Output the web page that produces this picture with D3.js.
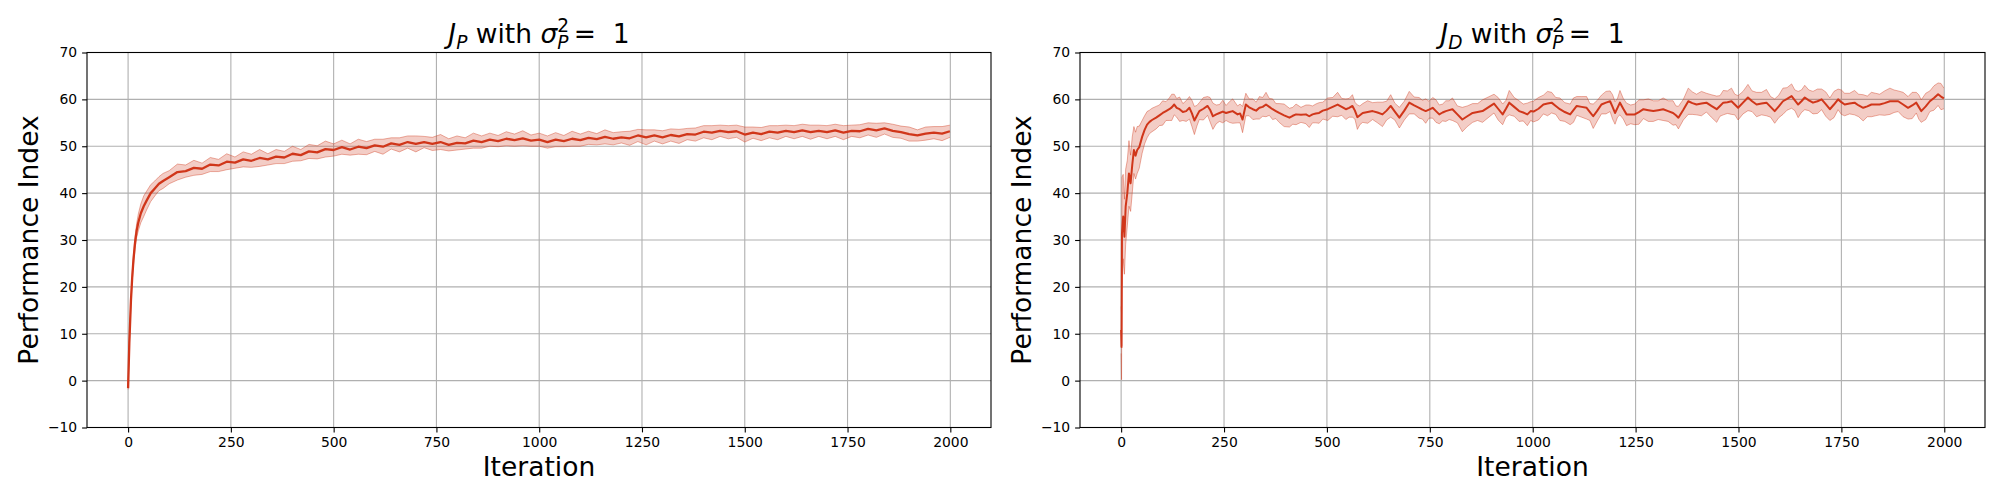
<!DOCTYPE html>
<html>
<head>
<meta charset="utf-8">
<script src="https://cdn.jsdelivr.net/npm/d3@7"></script>
<style>
  html, body { margin: 0; padding: 0; background: #fff; }
  svg { display: block; font-family: "DejaVu Sans", sans-serif; }
</style>
</head>
<body>
<svg id="chart" width="2000" height="500"></svg>
<script>
// ---------------- DATA ----------------
const xTicks = [0, 250, 500, 750, 1000, 1250, 1500, 1750, 2000];
const yTicks = [-10, 0, 10, 20, 30, 40, 50, 60, 70];

// Left panel: J_P
const leftIter = [
  0, 3, 7, 10, 13, 17, 21, 25, 31, 38,
  45, 55, 65, 75, 85, 100, 120, 140, 160, 180,
  200, 220, 240, 260, 280, 300, 320, 340, 360, 380,
  400, 420, 440, 460, 480, 500, 520, 540, 560, 580,
  600, 620, 640, 660, 680, 700, 720, 740, 760, 780,
  800, 820, 840, 860, 880, 900, 920, 940, 960, 980,
  1000, 1020, 1040, 1060, 1080, 1100, 1120, 1140, 1160, 1180,
  1200, 1220, 1240, 1260, 1280, 1300, 1320, 1340, 1360, 1380,
  1400, 1420, 1440, 1460, 1480, 1500, 1520, 1540, 1560, 1580,
  1600, 1620, 1640, 1660, 1680, 1700, 1720, 1740, 1760, 1780,
  1800, 1820, 1840, 1860, 1880, 1900, 1920, 1940, 1960, 1980,
  1999
];
const leftMean = [
  -1.6, 8.0, 17.2, 22.0, 25.7, 29.5, 32.1, 33.8, 35.7, 37.2,
  38.4, 40.0, 41.0, 42.0, 42.6, 43.4, 44.5, 44.7, 45.4, 45.2,
  46.1, 45.9, 46.7, 46.5, 47.2, 46.9, 47.5, 47.2, 47.8, 47.6,
  48.4, 48.1, 48.9, 48.7, 49.4, 49.2, 49.8, 49.3, 49.9, 49.6,
  50.2, 49.9, 50.6, 50.3, 50.9, 50.5, 50.9, 50.5, 50.9, 50.3,
  50.7, 50.6, 51.2, 50.9, 51.4, 51.1, 51.6, 51.3, 51.7, 51.2,
  51.4, 50.9, 51.4, 51.1, 51.6, 51.3, 51.8, 51.5, 52.0, 51.6,
  51.9, 51.7, 52.3, 51.9, 52.3, 51.9, 52.4, 52.1, 52.6, 52.5,
  53.1, 52.9, 53.3, 53.0, 53.2, 52.5, 52.9, 52.6, 53.1, 52.9,
  53.3, 53.0, 53.4, 53.0, 53.3, 53.0, 53.4, 52.9, 53.3, 53.2,
  53.7, 53.4, 53.8, 53.3, 53.0, 52.6, 52.3, 52.7, 52.9, 52.7,
  53.2
];
const leftSpread = [
  0.3, 0.5, 0.7, 0.9, 1.1, 1.3, 1.5, 1.8, 2.0, 2.2,
  2.0, 1.8, 1.6, 1.5, 1.6, 1.4, 1.7, 1.3, 1.6, 1.2,
  1.5, 1.3, 1.7, 1.2, 1.6, 1.4, 1.8, 1.2, 1.5, 1.3,
  1.6, 1.2, 1.5, 1.4, 1.7, 1.3, 1.5, 1.2, 1.6, 1.4,
  1.3, 1.6, 1.2, 1.5, 1.3, 1.7, 1.2, 1.4, 1.6, 1.3,
  1.5, 1.2, 1.6, 1.3, 1.4, 1.2, 1.5, 1.3, 1.6, 1.2,
  1.4, 1.3, 1.5, 1.2, 1.6, 1.3, 1.4, 1.2, 1.5, 1.3,
  1.2, 1.5, 1.3, 1.6, 1.2, 1.4, 1.3, 1.5, 1.2, 1.4,
  1.3, 1.5, 1.2, 1.4, 1.3, 1.6, 1.2, 1.4, 1.3, 1.5,
  1.2, 1.4, 1.3, 1.5, 1.2, 1.4, 1.3, 1.5, 1.2, 1.4,
  1.3, 1.5, 1.2, 1.4, 1.3, 1.5, 1.2, 1.4, 1.3, 1.5,
  1.3
];

// Right panel: J_D
const rightIter = [
  0, 1, 2, 5, 8, 11, 15, 19, 23, 27,
  31, 35, 39, 44, 51, 57, 63, 69, 75, 85,
  93, 101, 109, 117, 123, 129, 135, 142, 150, 158,
  166, 172, 178, 184, 190, 200, 210, 216, 223, 231,
  239, 247, 255, 263, 271, 283, 289, 295, 303, 311,
  320, 328, 336, 344, 352, 360, 368, 376, 384, 396,
  409, 417, 425, 437, 449, 457, 465, 473, 481, 490,
  502, 514, 526, 536, 546, 554, 562, 568, 574, 580,
  587, 599, 611, 623, 635, 645, 655, 665, 676, 688,
  700, 712, 724, 732, 740, 748, 757, 765, 773, 781,
  789, 797, 805, 817, 829, 841, 854, 866, 878, 892,
  906, 916, 927, 935, 943, 955, 967, 977, 987, 995,
  1002, 1014, 1026, 1036, 1046, 1056, 1066, 1078, 1091, 1099,
  1107, 1119, 1131, 1139, 1147, 1157, 1167, 1178, 1188, 1194,
  1200, 1206, 1212, 1220, 1228, 1238, 1248, 1258, 1269, 1281,
  1293, 1305, 1317, 1329, 1341, 1348, 1354, 1366, 1378, 1388,
  1398, 1410, 1422, 1434, 1447, 1455, 1463, 1473, 1483, 1491,
  1499, 1511, 1523, 1533, 1544, 1556, 1568, 1578, 1588, 1598,
  1608, 1618, 1629, 1637, 1645, 1653, 1661, 1671, 1681, 1692,
  1702, 1712, 1722, 1732, 1742, 1750, 1758, 1770, 1782, 1792,
  1803, 1813, 1823, 1833, 1843, 1855, 1868, 1878, 1888, 1900,
  1912, 1922, 1932, 1938, 1944, 1955, 1965, 1975, 1985, 1992,
  1999
];
const rightMean = [
  10.8, 7.2, 31.4, 35.0, 30.7, 37.1, 40.0, 44.2, 42.1, 46.0,
  49.2, 48.0, 49.2, 49.8, 52.0, 53.5, 54.6, 55.2, 55.6, 56.1,
  56.6, 57.1, 57.5, 57.9, 58.3, 58.9, 58.2, 57.9, 57.3, 57.5,
  58.2, 57.0, 55.5, 56.5, 57.5, 58.0, 58.6, 57.8, 56.4, 56.8,
  57.1, 57.4, 57.1, 57.3, 57.5, 56.8, 57.0, 55.7, 58.9, 58.3,
  57.9, 57.6, 58.2, 58.4, 58.9, 58.4, 57.9, 57.5, 57.1, 56.6,
  56.1, 56.5, 56.8, 56.7, 56.8, 56.4, 56.8, 57.0, 57.1, 57.6,
  57.9, 58.4, 58.9, 58.4, 57.9, 58.2, 58.6, 57.6, 56.2, 56.6,
  57.1, 57.3, 57.5, 57.2, 56.8, 57.6, 58.6, 57.4, 56.1, 57.6,
  59.3, 58.7, 58.2, 57.8, 57.5, 57.8, 58.2, 57.5, 56.8, 57.2,
  57.5, 57.7, 57.9, 56.8, 55.7, 56.4, 57.1, 57.3, 57.5, 58.3,
  59.1, 58.0, 56.8, 58.0, 59.3, 58.4, 57.5, 57.2, 56.8, 57.5,
  57.4, 58.0, 58.9, 59.1, 59.3, 58.6, 57.9, 57.3, 56.8, 57.7,
  58.6, 58.4, 58.2, 57.3, 56.4, 57.6, 58.9, 59.3, 59.6, 58.4,
  57.1, 58.2, 59.3, 58.0, 56.8, 56.8, 56.8, 57.3, 57.9, 57.7,
  57.5, 57.7, 57.9, 57.5, 57.1, 56.6, 56.1, 57.8, 59.6, 59.2,
  58.9, 59.1, 59.3, 58.6, 57.9, 58.6, 59.3, 59.4, 59.6, 58.9,
  58.2, 59.3, 60.4, 59.6, 58.9, 59.1, 59.3, 58.4, 57.5, 58.5,
  59.6, 60.1, 60.7, 59.8, 58.9, 59.6, 60.4, 59.8, 59.3, 59.6,
  60.0, 59.0, 57.9, 58.9, 60.0, 59.4, 58.9, 59.1, 59.3, 58.7,
  58.2, 58.5, 58.9, 58.9, 58.9, 59.2, 59.6, 59.6, 59.6, 58.9,
  58.2, 58.7, 59.3, 58.4, 57.5, 58.5, 59.6, 60.3, 61.1, 60.6,
  60.2
];
const rightSpread = [
  5.0, 7.0, 12.0, 9.0, 8.0, 8.0, 7.0, 7.0, 6.0, 6.0,
  5.0, 5.0, 5.0, 4.5, 3.5, 3.0, 2.8, 2.5, 2.5, 2.4,
  2.2, 2.6, 2.0, 2.4, 2.8, 2.2, 2.0, 2.6, 1.8, 2.2,
  2.4, 2.8, 3.0, 2.2, 1.8, 2.4, 2.0, 2.6, 2.8, 2.0,
  1.8, 2.4, 1.6, 2.2, 2.6, 1.8, 2.0, 2.8, 2.4, 1.8,
  2.2, 1.8, 2.4, 2.0, 2.6, 1.8, 2.2, 1.6, 2.0, 2.4,
  2.0, 1.8, 2.2, 1.6, 2.0, 2.4, 1.8, 2.0, 2.2, 1.8,
  2.4, 2.0, 2.6, 1.8, 2.2, 2.0, 2.4, 1.8, 2.6, 2.0,
  2.0, 2.4, 1.8, 2.2, 2.6, 2.0, 2.4, 1.8, 2.2, 2.0,
  2.4, 1.8, 2.2, 2.0, 2.6, 1.8, 2.2, 2.4, 2.0, 1.8,
  2.2, 2.0, 2.4, 1.8, 2.6, 2.2, 2.0, 1.8, 2.4, 2.2,
  2.0, 2.4, 2.2, 1.8, 2.6, 2.0, 2.2, 1.8, 2.4, 2.0,
  2.2, 2.4, 2.0, 2.6, 2.2, 1.8, 2.4, 2.0, 2.2, 2.6,
  2.0, 2.2, 2.4, 1.8, 2.6, 2.2, 2.0, 2.4, 2.2, 2.6,
  2.4, 2.0, 2.6, 2.2, 2.4, 2.0, 2.2, 2.6, 2.0, 2.4,
  2.2, 2.0, 2.4, 2.2, 2.6, 2.0, 2.4, 2.2, 2.8, 2.4,
  2.2, 2.6, 2.0, 2.4, 2.8, 2.2, 2.6, 2.4, 2.8, 2.2,
  2.6, 2.4, 2.8, 2.2, 2.6, 2.4, 2.8, 2.2, 2.6, 2.4,
  2.8, 2.4, 2.6, 2.2, 2.8, 2.4, 2.6, 2.2, 2.4, 2.6,
  2.2, 2.6, 2.4, 2.8, 2.2, 2.6, 2.4, 2.2, 2.6, 2.4,
  2.8, 2.2, 2.6, 2.4, 2.2, 2.6, 2.8, 2.4, 2.2, 2.6,
  2.4, 2.8, 2.2, 2.6, 2.4, 2.8, 2.2, 2.6, 2.4, 2.8,
  2.2
];

const panels = [
  { sub: "P", iter: leftIter, mean: leftMean, spread: leftSpread, x0: 87, x1: 991, lw: 2.3 },
  { sub: "D", iter: rightIter, mean: rightMean, spread: rightSpread, x0: 1080, x1: 1985, lw: 2.0 }
];

// ---------------- DRAW ----------------
const svg = d3.select("#chart");
svg.append("rect").attr("width", 2000).attr("height", 500).attr("fill", "#fff");

const plotTop = 52.5, plotBottom = 427.5;
const lineColor = "#d0361a";
const FS_LABEL = 26.5, FS_TICK = 13.9;

panels.forEach(p => {
  const x = d3.scaleLinear().domain([-99.95, 2098.95]).range([p.x0, p.x1]);
  const y = d3.scaleLinear().domain([-10, 70]).range([plotBottom, plotTop]);
  const g = svg.append("g");

  // grid
  g.append("g").selectAll("line").data(xTicks).join("line")
    .attr("x1", d => x(d)).attr("x2", d => x(d))
    .attr("y1", plotTop).attr("y2", plotBottom)
    .attr("stroke", "#b0b0b0").attr("stroke-width", 1.1);
  g.append("g").selectAll("line").data(yTicks).join("line")
    .attr("x1", p.x0).attr("x2", p.x1)
    .attr("y1", d => y(d)).attr("y2", d => y(d))
    .attr("stroke", "#b0b0b0").attr("stroke-width", 1.1);

  const pts = p.iter.map((it, i) => ({ it, m: p.mean[i], s: p.spread[i] }));

  // band
  const area = d3.area().x(d => x(d.it)).y0(d => y(d.m - d.s)).y1(d => y(d.m + d.s));
  g.append("path").datum(pts).attr("d", area)
    .attr("fill", lineColor).attr("fill-opacity", 0.25).attr("stroke", "none");
  const upper = d3.line().x(d => x(d.it)).y(d => y(d.m + d.s));
  const lower = d3.line().x(d => x(d.it)).y(d => y(d.m - d.s));
  [upper, lower].forEach(l => {
    g.append("path").datum(pts).attr("d", l)
      .attr("fill", "none").attr("stroke", lineColor)
      .attr("stroke-opacity", 0.4).attr("stroke-width", 1);
  });

  // mean line
  const line = d3.line().x(d => x(d.it)).y(d => y(d.m));
  g.append("path").datum(pts).attr("d", line)
    .attr("fill", "none").attr("stroke", lineColor)
    .attr("stroke-width", p.lw).attr("stroke-linejoin", "round");

  // axes
  const xAxis = d3.axisBottom(x).tickValues(xTicks).tickSize(4.9).tickPadding(4.9).tickFormat(d3.format("d"));
  const yAxis = d3.axisLeft(y).tickValues(yTicks).tickSize(4.9).tickPadding(4.9).tickFormat(d3.format("d"));
  const gx = g.append("g").attr("transform", `translate(0,${plotBottom})`).call(xAxis);
  const gy = g.append("g").attr("transform", `translate(${p.x0},0)`).call(yAxis);
  [gx, gy].forEach(a => {
    a.select(".domain").remove();
    a.selectAll(".tick line").attr("stroke", "#000").attr("stroke-width", 1.1);
    a.selectAll(".tick text").attr("fill", "#000")
      .attr("font-family", "DejaVu Sans").attr("font-size", FS_TICK);
  });

  // frame
  g.append("rect").attr("x", p.x0).attr("y", plotTop)
    .attr("width", p.x1 - p.x0).attr("height", plotBottom - plotTop)
    .attr("fill", "none").attr("stroke", "#000").attr("stroke-width", 1.1);

  const cx = (p.x0 + p.x1) / 2;

  // x label
  g.append("text").attr("x", cx).attr("y", 476)
    .attr("text-anchor", "middle").attr("font-size", FS_LABEL).attr("fill", "#000")
    .text("Iteration");

  // y label
  g.append("text")
    .attr("transform", `translate(${p.x0 - 49.5},${(plotTop + plotBottom) / 2}) rotate(-90)`)
    .attr("text-anchor", "middle").attr("font-size", FS_LABEL).attr("fill", "#000")
    .text("Performance Index");

  // title: J_X with σ_P^2 = 1
  const small = FS_LABEL * 0.7;
  const t = g.append("text").attr("x", cx).attr("y", 43)
    .attr("text-anchor", "middle").attr("font-size", FS_LABEL).attr("fill", "#000");
  t.append("tspan").attr("font-style", "italic").text("J");
  t.append("tspan").attr("font-style", "italic").attr("font-size", small).attr("dy", 5.5).text(p.sub);
  t.append("tspan").attr("dy", -5.5).text(" with ");
  t.append("tspan").attr("font-style", "italic").text("σ");
  t.append("tspan").attr("font-size", small).attr("dy", -11).text("2");
  t.append("tspan").attr("font-style", "italic").attr("font-size", small)
    .attr("dx", -small * 0.636).attr("dy", 17).text("P");
  t.append("tspan").attr("dy", -6).text("\u2009=\u00a0 1");
});
</script>
</body>
</html>
